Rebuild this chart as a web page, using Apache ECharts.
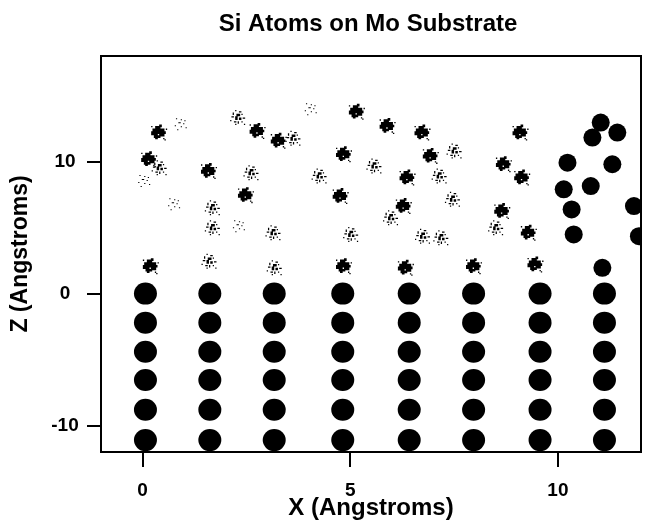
<!DOCTYPE html>
<html>
<head>
<meta charset="utf-8">
<script src="https://cdn.jsdelivr.net/npm/echarts@6/dist/echarts.min.js"></script>
<style>
  html, body { margin: 0; padding: 0; background: #fff; }
  #chart { width: 651px; height: 523px; }
</style>
</head>
<body>
<div id="chart"></div>
<script>
// Mo substrate lattice: column x positions and layer z positions (Angstroms)
const moCols = [0.07, 1.62, 3.17, 4.82, 6.42, 7.97, 9.57, 11.12]
const moRows = [0, -2.2, -4.4, -6.55, -8.8, -11.1]

// Si atoms, smeared (dense) clusters [x, z]
const siDense = [
  [0.40, 12.20], [2.77, 12.32], [3.28, 11.58], [0.16, 10.17], [1.60, 9.29],
  [2.49, 7.46], [0.20, 2.07], [5.16, 13.77], [5.90, 12.70], [6.74, 12.20],
  [4.85, 10.55], [6.94, 10.43], [6.38, 8.79], [4.77, 7.39], [6.29, 6.63],
  [4.85, 2.07], [6.34, 1.95], [9.10, 12.20], [8.70, 9.80], [9.14, 8.79],
  [8.66, 6.25], [9.30, 4.61], [7.98, 2.07], [9.46, 2.20]
]

// Si atoms, sparse clusters [x, z]
const siSparse = [
  [2.29, 13.34], [0.40, 9.54], [2.61, 9.16], [1.68, 6.51], [1.68, 4.99],
  [3.14, 4.61], [1.60, 2.45], [3.17, 1.95], [3.62, 11.77], [7.50, 10.80],
  [5.57, 9.67], [4.25, 8.91], [7.14, 8.91], [7.46, 7.14], [5.97, 5.75],
  [5.01, 4.48], [6.74, 4.35], [7.18, 4.23], [8.50, 4.99]
]

// Si atoms, faint traces [x, z]
const siFaint = [
  [0.92, 12.83], [0.04, 8.53], [0.76, 6.76], [2.32, 5.11], [4.05, 13.97]
]

// Si atoms, well localised [x, z]
const siSolid = [
  [11.03, 12.96], [10.83, 11.82], [11.43, 12.20], [10.23, 9.92], [11.31, 9.80],
  [10.14, 7.90], [10.79, 8.15], [10.33, 6.38], [11.83, 6.63], [10.38, 4.48],
  [11.95, 4.35], [11.07, 1.95]
]

const xTicks = [0, 5, 10]
const zTicks = [-10, 0, 10]

const moAtoms = []
moCols.forEach(x => moRows.forEach(z => moAtoms.push([x, z])))

const denseBlob = 'path://M3,1h4v2h-4z M6,0h2v2h-2z M1,3h9v2h-9z M0,5h5v3h-5z M5,5h6v2h-6z M6,7h4v2h-4z M2,8h5v2h-5z M3,10h2v1h-2z M9,10h1v1h-1z M11,3h1v1h-1z M0,1h1v1h-1z M10,11h1v1h-1z'
const sparseBlob = 'path://M4,0h1v1h-1z M7,1h2v1h-2z M2,2h1v2h-1z M5,3h3v2h-3z M9,3h1v1h-1z M1,5h2v1h-2z M4,5h2v3h-2z M7,6h2v2h-2z M10,6h2v1h-2z M0,8h1v1h-1z M3,9h2v1h-2z M6,9h1v2h-1z M9,9h1v1h-1z M4,11h1v1h-1z M11,11h1v1h-1z'
const faintBlob = 'path://M1,0h1v1h-1z M5,1h1v1h-1z M8,2h1v1h-1z M3,4h2v1h-2z M7,5h1v1h-1z M0,7h1v1h-1z M5,8h1v1h-1z M9,9h1v1h-1z M2,11h1v1h-1z'

const font = 'Liberation Sans, Arial, sans-serif'

const chart = echarts.init(document.getElementById('chart'), null, { renderer: 'canvas' })

chart.setOption({
  backgroundColor: '#fff',
  animation: false,
  title: {
    text: 'Si Atoms on Mo Substrate',
    left: 368,
    top: 12,
    padding: 0,
    textAlign: 'center',
    textStyle: { fontFamily: font, fontWeight: 'bold', fontSize: 24, color: '#000' }
  },
  grid: {
    left: 101,
    right: 10,
    top: 56,
    bottom: 71,
    outerBoundsMode: 'none',
    containLabel: false,
    show: true,
    borderColor: '#000',
    borderWidth: 2,
    backgroundColor: '#fff'
  },
  xAxis: {
    type: 'value',
    min: -1,
    max: 12,
    name: 'X (Angstroms)',
    nameLocation: 'middle',
    nameGap: 44,
    nameMoveOverlap: false,
    nameTextStyle: { fontFamily: font, fontWeight: 'bold', fontSize: 24, color: '#000' },
    axisLine: { onZero: false, lineStyle: { color: '#000', width: 2 } },
    axisTick: { customValues: xTicks, length: 15, lineStyle: { color: '#000', width: 2 } },
    axisLabel: {
      customValues: xTicks,
      margin: 29,
      fontFamily: font, fontWeight: 'bold', fontSize: 19, color: '#000'
    },
    splitLine: { show: false }
  },
  yAxis: {
    type: 'value',
    min: -12,
    max: 18,
    name: 'Z (Angstroms)',
    nameLocation: 'middle',
    nameGap: 69,
    nameMoveOverlap: false,
    nameTextStyle: { fontFamily: font, fontWeight: 'bold', fontSize: 23, color: '#000' },
    axisLine: { onZero: false, lineStyle: { color: '#000', width: 2 } },
    axisTick: { customValues: zTicks, length: 14, lineStyle: { color: '#000', width: 2 } },
    axisLabel: {
      customValues: zTicks,
      margin: 36,
      align: 'center',
      fontFamily: font, fontWeight: 'bold', fontSize: 19, color: '#000'
    },
    splitLine: { show: false }
  },
  series: [
    {
      name: 'Mo',
      type: 'scatter',
      symbol: 'circle',
      symbolSize: [23, 22],
      itemStyle: { color: '#000', opacity: 1 },
      data: moAtoms
    },
    {
      name: 'Si dense',
      type: 'scatter',
      symbol: denseBlob,
      symbolSize: 16,
      itemStyle: { color: '#000', opacity: 1 },
      data: siDense
    },
    {
      name: 'Si sparse',
      type: 'scatter',
      symbol: sparseBlob,
      symbolSize: 15,
      itemStyle: { color: '#000', opacity: 1 },
      data: siSparse
    },
    {
      name: 'Si faint',
      type: 'scatter',
      symbol: faintBlob,
      symbolSize: 12,
      itemStyle: { color: '#000', opacity: 1 },
      data: siFaint
    },
    {
      name: 'Si solid',
      type: 'custom',
      clip: true,
      renderItem: function (params, api) {
        const p = api.coord([api.value(0), api.value(1)])
        return {
          type: 'circle',
          shape: { cx: p[0], cy: p[1], r: 9 },
          style: { fill: '#000' }
        }
      },
      data: siSolid
    }
  ]
})
</script>
</body>
</html>
